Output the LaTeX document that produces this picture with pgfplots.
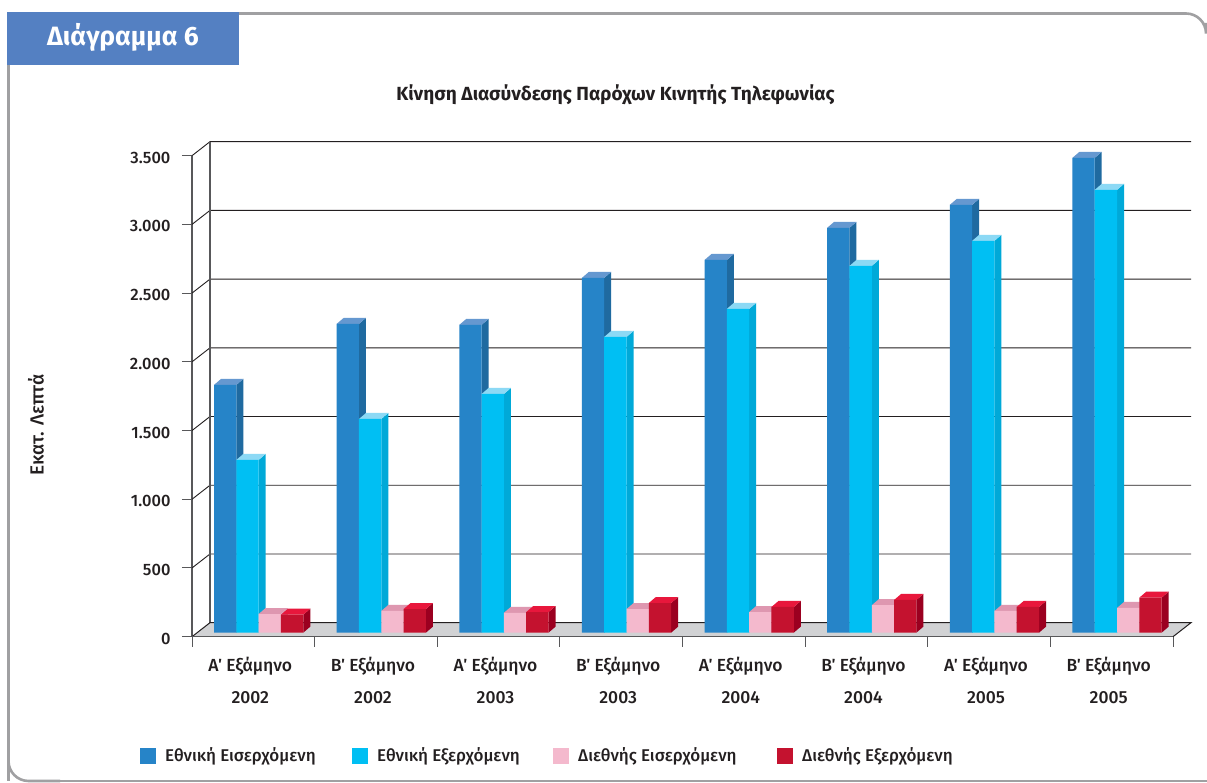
\documentclass[border=0pt]{standalone}
\usepackage{fontspec}
\setmainfont{Fira Sans}[UprightFont=* Medium,BoldFont=* Bold]
\usepackage{pgfplots}
\usepackage{pgfplotstable}
\pgfplotsset{compat=1.18}
\definecolor{ink}{HTML}{231F20}
\definecolor{frame}{HTML}{A0A0A2}
\definecolor{head}{HTML}{5480C2}
\definecolor{floorc}{HTML}{D1D2D4}
\definecolor{axisc}{HTML}{58585A}
\definecolor{aF}{HTML}{2684C8}\definecolor{aT}{HTML}{6598D0}\definecolor{aS}{HTML}{1F6AA0}
\definecolor{bF}{HTML}{00BFF3}\definecolor{bT}{HTML}{8CD9F5}\definecolor{bS}{HTML}{00A9D8}
\definecolor{cF}{HTML}{F4B9CD}\definecolor{cT}{HTML}{DE97B0}\definecolor{cS}{HTML}{D98FAA}
\definecolor{dF}{HTML}{C4122F}\definecolor{dT}{HTML}{E8173C}\definecolor{dS}{HTML}{9B0020}
\pgfplotstableread{
x  ethin ethex dieis diex
0  1803  1257  136   131
1  2247  1555  158   172
2  2240  1737  145   150
3  2582  2152  172   216
4  2712  2356  150   187
5  2946  2669  200   238
6  3113  2851  158   187
7  3455  3222  180   255
}\datatab
% top and side faces of the bars of one series
\newcommand\faces[4]{%
  \pgfplotsinvokeforeach{0,...,7}{%
    \pgfplotstablegetelem{##1}{#1}\of\datatab
    \let\vv\pgfplotsretval
    \pgfmathsetmacro\xl{##1+(#2-11.15)/122.625}%
    \pgfmathsetmacro\xr{##1+(#2+11.15)/122.625}%
    \pgfmathsetmacro\xlo{\xl+7/122.625}%
    \pgfmathsetmacro\xro{\xr+7/122.625}%
    \pgfmathsetmacro\yo{\vv+43.66}%
    \addplot[fill=#4,draw=none,yshift=4pt] coordinates {(\xr,0) (\xro,43.66) (\xro,\yo) (\xr,\vv)} --cycle;
    \addplot[fill=#3,draw=none,yshift=4pt] coordinates {(\xl,\vv) (\xlo,\yo) (\xro,\yo) (\xr,\vv)} --cycle;
  }%
}
\newcommand\front[3]{%
  \addplot[ybar,bar width=22.3pt,bar shift=#2pt,fill=#3,draw=none,yshift=4pt] table[x=x,y=#1] {\datatab};
}
\begin{document}
\begin{tikzpicture}[x=1pt,y=1pt]
\path[use as bounding box] (0,0) rectangle (1207,783);
\fill[white] (0,0) rectangle (1207,783);
% frame
\draw[frame,line width=2.6pt,rounded corners=20pt] (8.5,2) -- (8.5,769.5) -- (1206,769.5) -- (1206,760);
\draw[frame,line width=2.6pt,rounded corners=20pt] (8.5,60) -- (8.5,2) -- (60,2);
\draw[frame,line width=2.6pt] (60,2) -- (1207,2);
\fill[head] (7,718) rectangle (239,771);
\node[white,font=\fontsize{26.5}{30}\selectfont\bfseries,anchor=center] at (123,746) {Διάγραμμα 6};
\node[ink,font=\fontsize{19}{22}\selectfont\bfseries] at (615.5,688) {Κίνηση Διασύνδεσης Παρόχων Κινητής Τηλεφωνίας};
\node[ink,font=\fontsize{19}{22}\selectfont,rotate=90] at (36,358) {Εκατ. Λεπτά};
\begin{axis}[
  at={(192pt,146.3pt)},anchor=origin,
  scale only axis,width=981pt,height=481pt,
  xmin=0,xmax=8,ymin=0,ymax=3500,clip=false,
  axis x line*=bottom,axis y line*=left,
  axis line style={-,draw=axisc,line width=1.4pt},
  ytick={0,500,...,3500},
  xtick={0.5,1.5,...,7.5},
  xticklabels={{Α΄ Εξάμηνο\\[12pt]2002},{Β΄ Εξάμηνο\\[12pt]2002},{Α΄ Εξάμηνο\\[12pt]2003},{Β΄ Εξάμηνο\\[12pt]2003},{Α΄ Εξάμηνο\\[12pt]2004},{Β΄ Εξάμηνο\\[12pt]2004},{Α΄ Εξάμηνο\\[12pt]2005},{Β΄ Εξάμηνο\\[12pt]2005}},
  xticklabel style={align=center,text=ink,font=\fontsize{17.5}{20}\selectfont,xshift=-3pt,yshift=-7pt},
  yticklabel style={text=ink,font=\fontsize{16.5}{18}\selectfont,xshift=-6pt,yshift=-2pt,/pgf/number format/.cd,1000 sep={.},assume math mode=true},
  minor xtick={0,1,...,8},
  major x tick style={draw=none},
  minor x tick style={draw=axisc,line width=1pt},
  y tick style={draw=axisc,line width=1pt},
  tick align=outside,
  major tick length=10pt,minor tick length=10pt,
  yticklabel shift=2pt,
]
% back wall grid
\addplot[draw=ink,line width=0.9pt] coordinates {(0,500) (0.1468,602) (8.1468,602)};
\addplot[draw=ink,line width=0.9pt] coordinates {(0,1000) (0.1468,1102) (8.1468,1102)};
\addplot[draw=ink,line width=0.9pt] coordinates {(0,1500) (0.1468,1602) (8.1468,1602)};
\addplot[draw=ink,line width=0.9pt] coordinates {(0,2000) (0.1468,2102) (8.1468,2102)};
\addplot[draw=ink,line width=0.9pt] coordinates {(0,2500) (0.1468,2602) (8.1468,2602)};
\addplot[draw=ink,line width=0.9pt] coordinates {(0,3000) (0.1468,3102) (8.1468,3102)};
\addplot[draw=ink,line width=0.9pt] coordinates {(0,3500) (0.1468,3602) (8.1468,3602)};
\addplot[draw=axisc,line width=1.2pt] coordinates {(0.1468,102) (0.1468,3602)};
% floor
\addplot[fill=floorc,draw=none] coordinates {(0,0) (0.1468,102) (8.1468,102) (8,0)} --cycle;
\addplot[draw=ink,line width=1pt] coordinates {(0,0) (0.1468,102) (8.1468,102) (8,0)};
\addplot[draw=axisc,line width=1.6pt] coordinates {(0,0) (8,0)};
% bars
\faces{ethin}{33.2}{aT}{aS}
\front{ethin}{33.2}{aF}
\faces{ethex}{55.5}{bT}{bS}
\front{ethex}{55.5}{bF}
\faces{dieis}{77.8}{cT}{cS}
\front{dieis}{77.8}{cF}
\faces{diex}{100.1}{dT}{dS}
\front{diex}{100.1}{dF}
\end{axis}
% legend
\fill[aF] (140,19) rectangle (156,35);
\node[ink,anchor=west,inner sep=0pt,font=\fontsize{17}{20}\selectfont] at (165,27) {Εθνική Εισερχόμενη};
\fill[bF] (352,19) rectangle (368,35);
\node[ink,anchor=west,inner sep=0pt,font=\fontsize{17}{20}\selectfont] at (377,27) {Εθνική Εξερχόμενη};
\fill[cF] (553,19) rectangle (569,35);
\node[ink,anchor=west,inner sep=0pt,font=\fontsize{17}{20}\selectfont] at (578,27) {Διεθνής Εισερχόμενη};
\fill[dF] (777,19) rectangle (793,35);
\node[ink,anchor=west,inner sep=0pt,font=\fontsize{17}{20}\selectfont] at (802,27) {Διεθνής Εξερχόμενη};
\end{tikzpicture}
\end{document}
